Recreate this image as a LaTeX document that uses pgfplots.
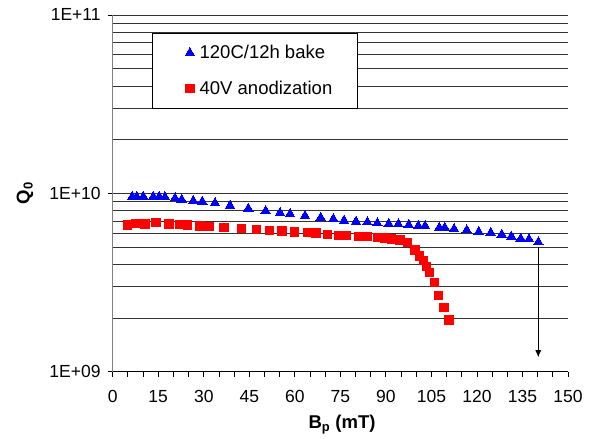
\documentclass[border=0pt]{standalone}
\usepackage{pgfplots}
\pgfplotsset{compat=1.18}
\usepackage{fontspec}
\setmainfont{Liberation Sans}
\usetikzlibrary{arrows.meta}
\begin{document}
\begin{tikzpicture}
\begin{axis}[name=ax, at={(0,0)}, anchor=south west,
  scale only axis, width=455.3pt, height=356.7pt,
  ymode=log, xmin=0, xmax=150, ymin=1e9, ymax=1e11,
  axis x line=bottom, axis y line=left, axis line style={-},
  x axis line style={black, line width=0.9pt},
  y axis line style={black!50, line width=1.5pt},
  tick align=outside,
  major tick length=5pt, minor tick length=0pt,
  tick style={black, line width=0.8pt},
  xtick={0,5,...,150},
  xticklabels={0,{},{},15,{},{},30,{},{},45,{},{},60,{},{},75,{},{},90,{},{},105,{},{},120,{},{},135,{},{},150},
  ytick={1e9,1e10,1e11}, yticklabels={1E+09,1E+10,1E+11},
  minor ytick={2e9,3e9,4e9,5e9,6e9,7e9,8e9,9e9,2e10,3e10,4e10,5e10,6e10,7e10,8e10,9e10},
  ymajorgrids=true, yminorgrids=true,
  major grid style={black!80, line width=0.8pt},
  minor grid style={black!80, line width=0.8pt},
  tick label style={font=\fontsize{17.5}{21}\selectfont},
  xticklabel style={yshift=-10pt},
  yticklabel style={xshift=-3.6pt},
  xlabel={\textbf{B\textsubscript{p} (mT)}},
  ylabel={\textbf{Q\textsubscript{0}}},
  label style={font=\fontsize{18.5}{22}\selectfont},
  xlabel style={at={(axis description cs:0.5036,-0.1597)}, anchor=base},
  ylabel style={at={(axis description cs:-0.1926,0.5)}, anchor=center, rotate=0},
  legend style={at={(axis description cs:0.0857,0.949)}, anchor=north west,
    draw=black, line width=0.8pt, fill=white,
    font=\fontsize{18.5}{22}\selectfont,
    inner xsep=33pt, inner ysep=10pt, row sep=16.7pt, column sep=3pt},
  legend cell align=left,
]
\addplot[only marks, mark=triangle*, mark size=5.5pt, color=blue, mark options={line width=0pt}] coordinates {
(6.46,9.58e9)(7.91,9.58e9)(10.08,9.58e9)(13.38,9.58e9)(15.35,9.58e9)(17.23,9.51e9)
(20.53,9.39e9)(22.73,9.22e9)(26.56,9.07e9)(29.52,8.98e9)(33.71,8.80e9)(38.65,8.53e9)
(44.68,8.21e9)(50.41,7.96e9)(55.12,7.76e9)(58.42,7.66e9)(63.36,7.47e9)(68.53,7.31e9)
(72.69,7.18e9)(76.21,7.03e9)(80.16,6.94e9)(83.89,6.89e9)(87.18,6.80e9)(90.94,6.74e9)
(94.10,6.71e9)(97.53,6.65e9)(100.69,6.56e9)(102.90,6.56e9)(107.61,6.42e9)(109.39,6.42e9)
(112.45,6.31e9)(116.64,6.21e9)(120.59,6.07e9)(124.55,6.00e9)(128.17,5.87e9)(131.33,5.72e9)
(134.43,5.57e9)(137.17,5.53e9)(140.23,5.32e9)
};
\addlegendentry{\makebox[123pt][l]{120C/12h bake}}
\addplot[only marks, mark=square*, mark size=4.2pt, color=red, mark options={line width=0pt}] coordinates {
(4.81,6.65e9)(7.58,6.80e9)(10.64,6.74e9)(14.27,6.85e9)(18.55,6.74e9)(21.94,6.71e9)
(24.58,6.65e9)(28.76,6.56e9)(31.83,6.51e9)(36.67,6.42e9)(42.37,6.37e9)(47.45,6.26e9)
(51.60,6.18e9)(55.78,6.16e9)(59.97,6.07e9)(64.12,6.05e9)(66.98,6.00e9)(70.71,5.89e9)
(74.33,5.82e9)(77.10,5.79e9)(80.92,5.75e9)(83.89,5.72e9)(87.18,5.67e9)(89.72,5.62e9)
(91.93,5.55e9)(94.66,5.48e9)(97.07,5.29e9)(99.60,4.82e9)(101.02,4.46e9)(102.34,4.19e9)
(103.46,3.88e9)(104.32,3.59e9)(105.96,3.16e9)(107.28,2.68e9)(109.16,2.29e9)(110.81,1.95e9)
};
\addlegendentry{\makebox[123pt][l]{40V anodization}}
\draw[-{Latex[length=7pt,width=6pt]}, line width=0.9pt] (axis cs:140.2,5.02e9) -- (axis cs:140.2,1.205e9);
\end{axis}
\pgfresetboundingbox
\path[use as bounding box] ([xshift=-112.7pt,yshift=-66.3pt]ax.south west) rectangle ([xshift=23pt,yshift=15pt]ax.north east);
\end{tikzpicture}
\end{document}
